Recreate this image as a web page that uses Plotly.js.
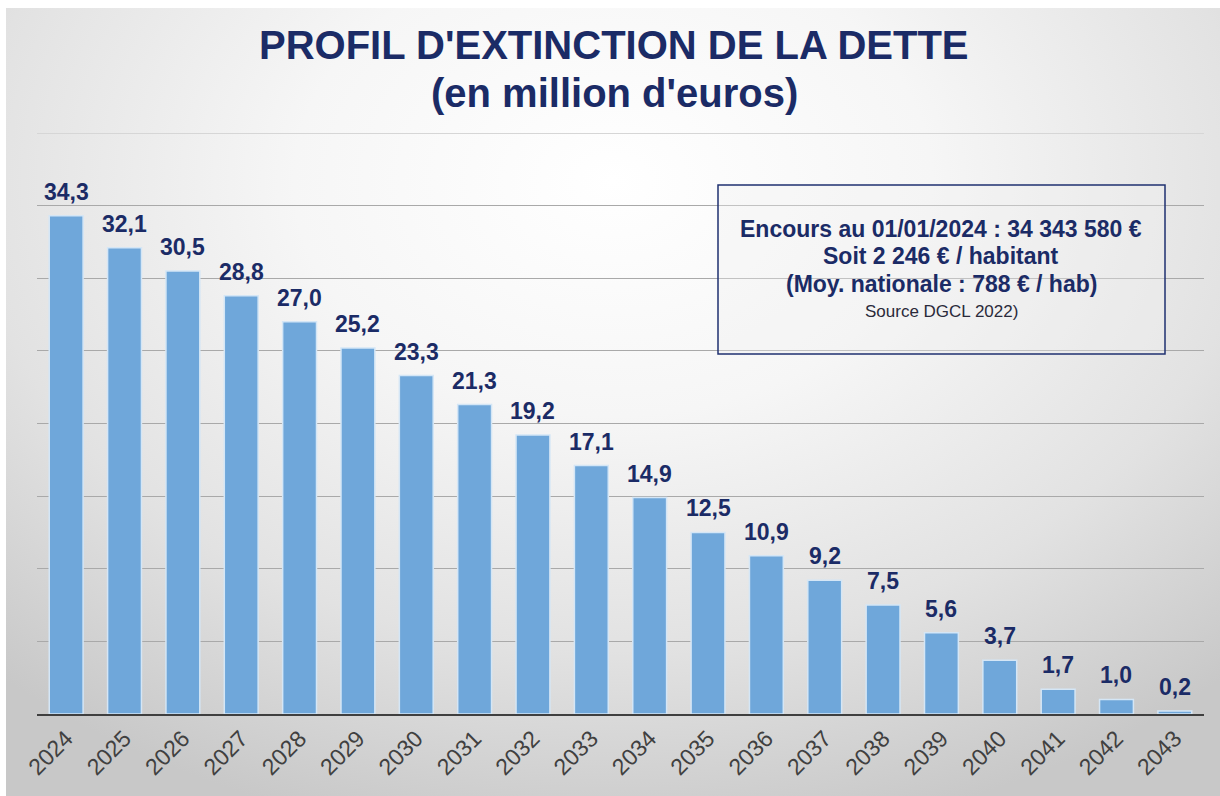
<!DOCTYPE html>
<html>
<head>
<meta charset="utf-8">
<script src="https://cdn.plot.ly/plotly-3.0.1.min.js"></script>
<style>
html,body{margin:0;padding:0;width:1220px;height:796px;overflow:hidden;background:#ffffff;}
#bg{position:absolute;left:6px;top:8px;width:1214px;height:788px;
background:radial-gradient(ellipse 75% 85% at 50% 22%, #ffffff 0%, #f6f6f6 35%, #e2e2e2 70%, #c8c8c8 100%);}
#chart{position:absolute;left:0;top:0;width:1220px;height:796px;}
</style>
</head>
<body>
<div id="bg"></div>
<div id="chart"></div>
<script>
const years = ["2024","2025","2026","2027","2028","2029","2030","2031","2032","2033","2034","2035","2036","2037","2038","2039","2040","2041","2042","2043"];
const values = [34.3,32.1,30.5,28.8,27.0,25.2,23.3,21.3,19.2,17.1,14.9,12.5,10.9,9.2,7.5,5.6,3.7,1.7,1.0,0.2];
const titleLines = ["PROFIL D'EXTINCTION DE LA DETTE","(en million d'euros)"];
const boxLines = ["Encours au 01/01/2024 : 34 343 580 €","Soit 2 246 € / habitant","(Moy. nationale : 788 € / hab)"];
const sourceLine = "Source DGCL 2022)";

const labels = values.map(v => v.toFixed(1).replace('.', ','));
const navy = '#1b2b66';
const FONT = 'Liberation Sans, Arial, sans-serif';

const trace = {
  type: 'bar',
  x: years,
  y: values,
  marker: {color: '#6fa7da', line: {color: '#d4e6f6', width: 1.5}},
  hoverinfo: 'x+y'
};

// plot area: x 37..1204, y 133..714
const PX = x => (x - 37) / 1167;
const PY = y => (714 - y) / 581;

// value labels: placed on the category axis (by category index) above each bar
const valueAnnots = years.map((yr, i) => ({
  x: i, y: values[i], xref: 'x', yref: 'y',
  text: '<b>' + labels[i] + '</b>', showarrow: false,
  xanchor: 'center', yanchor: 'bottom', yshift: 9,
  font: {family: FONT, size: 23, color: navy}
}));

const layout = {
  width: 1220, height: 796,
  paper_bgcolor: 'rgba(0,0,0,0)',
  plot_bgcolor: 'rgba(0,0,0,0)',
  margin: {l: 37, r: 16, t: 133, b: 82},
  bargap: 0.42,
  showlegend: false,
  xaxis: {
    type: 'category',
    categoryorder: 'array', categoryarray: years,
    range: [-0.5, years.length - 0.5], autorange: false,
    showline: true, linecolor: '#3f3f3f', linewidth: 2,
    ticks: '', tickangle: -45,
    tickfont: {family: FONT, size: 23, color: '#404040'},
    showgrid: false
  },
  yaxis: {
    range: [0, 40], dtick: 5,
    showticklabels: false, showgrid: true, gridcolor: '#a9a9a9', gridwidth: 1,
    zeroline: false, showline: false, fixedrange: true
  },
  shapes: [
    {type: 'line', xref: 'paper', yref: 'y', x0: 0, x1: 1, y0: 40, y1: 40,
     line: {color: '#d6d6d6', width: 2}, layer: 'below'},
    {type: 'rect', xref: 'paper', yref: 'paper',
     x0: PX(718), x1: PX(1165),
     y0: PY(354), y1: PY(185),
     line: {color: '#1f3170', width: 1.5},
     fillcolor: 'rgba(240,240,240,0.35)', layer: 'above'}
  ],
  annotations: [
    {xref: 'paper', yref: 'paper', x: PX(614), y: PY(45), xanchor: 'center', yanchor: 'middle',
     text: '<b>' + titleLines[0] + '</b>', showarrow: false,
     font: {family: FONT, size: 40, color: navy}},
    {xref: 'paper', yref: 'paper', x: PX(614), y: PY(93), xanchor: 'center', yanchor: 'middle',
     text: '<b>' + titleLines[1] + '</b>', showarrow: false,
     font: {family: FONT, size: 40, color: navy}},
    {xref: 'paper', yref: 'paper', x: PX(941), y: PY(229), xanchor: 'center', yanchor: 'middle',
     text: '<b>' + boxLines[0] + '</b>', showarrow: false,
     font: {family: FONT, size: 23, color: navy}},
    {xref: 'paper', yref: 'paper', x: PX(941), y: PY(256), xanchor: 'center', yanchor: 'middle',
     text: '<b>' + boxLines[1] + '</b>', showarrow: false,
     font: {family: FONT, size: 23, color: navy}},
    {xref: 'paper', yref: 'paper', x: PX(941), y: PY(284), xanchor: 'center', yanchor: 'middle',
     text: '<b>' + boxLines[2] + '</b>', showarrow: false,
     font: {family: FONT, size: 23, color: navy}},
    {xref: 'paper', yref: 'paper', x: PX(941), y: PY(311), xanchor: 'center', yanchor: 'middle',
     text: sourceLine, showarrow: false,
     font: {family: FONT, size: 17, color: '#2a2a3a'}}
  ].concat(valueAnnots)
};

Plotly.newPlot('chart', [trace], layout, {displayModeBar: false, staticPlot: true});
</script>
</body>
</html>
